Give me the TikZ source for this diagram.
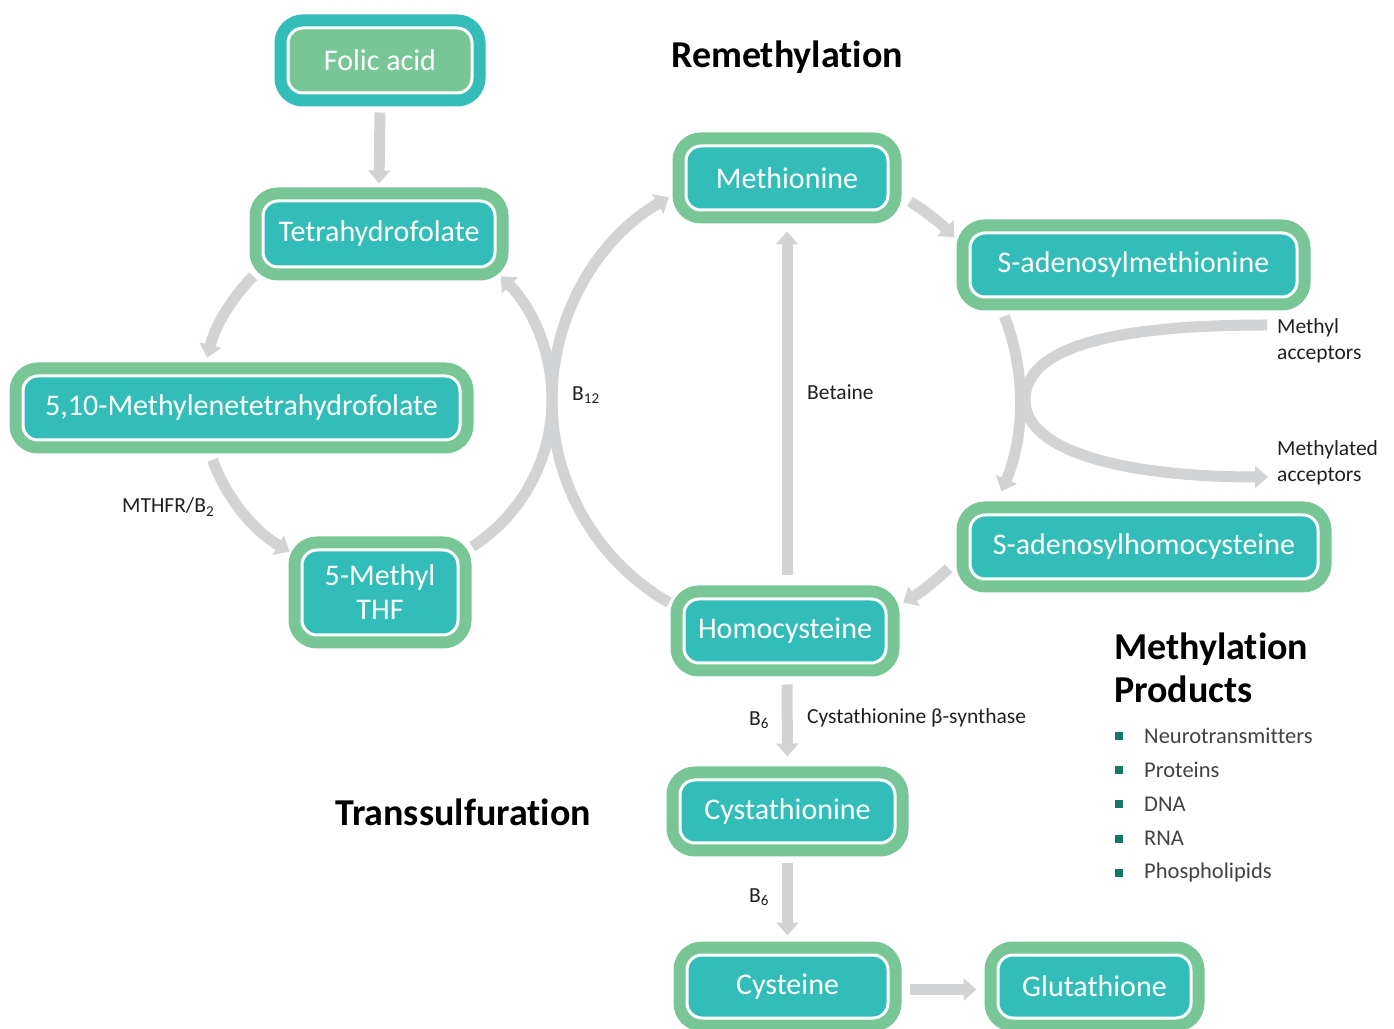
\documentclass[tikz,border=0pt]{standalone}
\usepackage{fontspec}
\setmainfont{Carlito}[Ligatures=NoCommon]
\usetikzlibrary{arrows.meta}
\definecolor{leafgreen}{HTML}{78C695}
\definecolor{boxteal}{HTML}{33BDB8}
\definecolor{arrowgrey}{HTML}{D1D3D4}
\definecolor{bulletteal}{HTML}{17786A}
\definecolor{inkgrey}{HTML}{231F20}
\begin{document}
\begin{tikzpicture}[x=1pt,y=1pt,
	basebox/.style={rectangle, rounded corners=15pt, draw=white, line width=3pt,
		inner sep=0pt, align=center, text=white, font=\fontsize{30}{34}\selectfont},
	pathway/.style={basebox, fill=boxteal, preaction={draw=leafgreen, line width=27pt}},
	folate/.style={basebox, fill=leafgreen, preaction={draw=boxteal, line width=27pt}},
	flow/.style={arrowgrey, line width=11pt, -{Triangle[width=22pt,length=13pt]}},
	heading/.style={text=black, font=\bfseries\fontsize{38}{43}\selectfont, inner sep=0pt},
	cofactor/.style={text=inkgrey, font=\fontsize{21.5}{26}\selectfont, inner sep=0pt, anchor=west, align=left},
	listitem/.style={text=inkgrey!85, font=\fontsize{22.5}{26}\selectfont, inner sep=0pt, anchor=west}]
	\useasboundingbox (0,0) rectangle (1394,1028);
	
	% folate cycle
	\node[folate, minimum width=184, minimum height=65]  (folic) at (380,967.5) {Folic acid};
	\node[pathway, minimum width=232, minimum height=66] (thf)   at (379,794)   {Tetrahydrofolate};
	\node[pathway, minimum width=437, minimum height=64] (mthf)  at (241.5,620) {5,10-Methylenetetrahydrofolate};
	\node[pathway, minimum width=156, minimum height=85] (meth5) at (380,435.5) {5-Methyl\\THF};
	
	% methionine cycle
	\node[pathway, minimum width=202, minimum height=64] (met)  at (787,850)    {Methionine};
	\node[pathway, minimum width=327, minimum height=64] (sam)  at (1133.5,763) {S-adenosylmethionine};
	\node[pathway, minimum width=348, minimum height=64] (sah)  at (1144,481)   {S-adenosylhomocysteine};
	\node[pathway, minimum width=202, minimum height=64] (hcy)  at (785,397)    {Homocysteine};
	
	% transsulfuration
	\node[pathway, minimum width=215, minimum height=63] (cysta) at (787.5,216.5) {Cystathionine};
	\node[pathway, minimum width=201, minimum height=63] (cys)   at (787.5,41.5)  {Cysteine};
	\node[pathway, minimum width=193, minimum height=63] (gsh)   at (1094.5,41.5) {Glutathione};
	
	\coordinate (lc) at (377,628);
	\coordinate (rc) at (786,628);
	
	\draw[flow] ([yshift=-18]folic.south) -- ([yshift=16]thf.north);
	\draw[flow] ([shift={(135:175)}]lc) arc[start angle=135, end angle=166, radius=175];
	\draw[flow] ([shift={(200:175)}]lc) arc[start angle=200, end angle=240, radius=175];
	\draw[flow] ([shift={(-57:175)}]lc) arc[start angle=-57, end angle=0, radius=175]
		arc[start angle=180, end angle=120, radius=234];
	\draw[flow] ([shift={(240:234)}]rc) arc[start angle=240, end angle=180, radius=234]
		arc[start angle=0, end angle=45, radius=175];
	\draw[flow] ([shift={(58:234)}]rc) arc[start angle=58, end angle=44, radius=234];
	\draw[flow] ([shift={(21:234)}]rc) arc[start angle=21, end angle=-23, radius=234];
	\draw[flow] ([shift={(-46:234)}]rc) arc[start angle=-46, end angle=-60, radius=234];
	\draw[flow] ([xshift=2,yshift=22]hcy.north) -- ([yshift=-20]met.south);
	\draw[flow] ([xshift=2,yshift=-20]hcy.south) -- ([yshift=22]cysta.north);
	\draw[flow] ([yshift=-19]cysta.south) -- ([yshift=18]cys.north);
	\draw[flow] ([xshift=20,yshift=-3]cys.east) -- ([xshift=-20,yshift=-3]gsh.west);
	
	% methyl acceptors
	\coordinate (donor) at (1267,703);
	\coordinate (bend) at (1025,628);
	\coordinate (taken) at (1268,551);
	\draw[flow] (donor) .. controls (1110,703) and (1025,680) .. (bend)
		.. controls (1025,575) and (1130,551) .. (taken);
	
	\node[cofactor] (b12)     at (572,633) {B\textsubscript{12}};
	\node[cofactor] (mthfr)   at (122,521) {MTHFR/B\textsubscript{2}};
	\node[cofactor] (betaine) at (807,636) {Betaine};
	\node[cofactor] (b6a)     at (749,308) {B\textsubscript{6}};
	\node[cofactor] (cbs)     at (807,310) {Cystathionine β-synthase};
	\node[cofactor] (b6b)     at (749,131) {B\textsubscript{6}};
	\node[cofactor] (macc)    at (1277,687) {Methyl\\acceptors};
	\node[cofactor] (mdacc)   at (1277,565) {Methylated\\acceptors};
	
	\node[heading] (remeth) at (787,971) {Remethylation};
	\node[heading] (transs) at (463,216) {Transsulfuration};
	\node[heading, anchor=north west, align=left] (products) at (1114,395) {Methylation\\Products};
	
	\foreach \word [count=\i] in {Neurotransmitters, Proteins, DNA, RNA, Phospholipids}{
		\fill[bulletteal] (1115,292-34.25*\i+34.25-4) rectangle +(8,8);
		\node[listitem] (prod\i) at (1144,292-34.25*\i+34.25) {\word};
	}
\end{tikzpicture}
\end{document}
